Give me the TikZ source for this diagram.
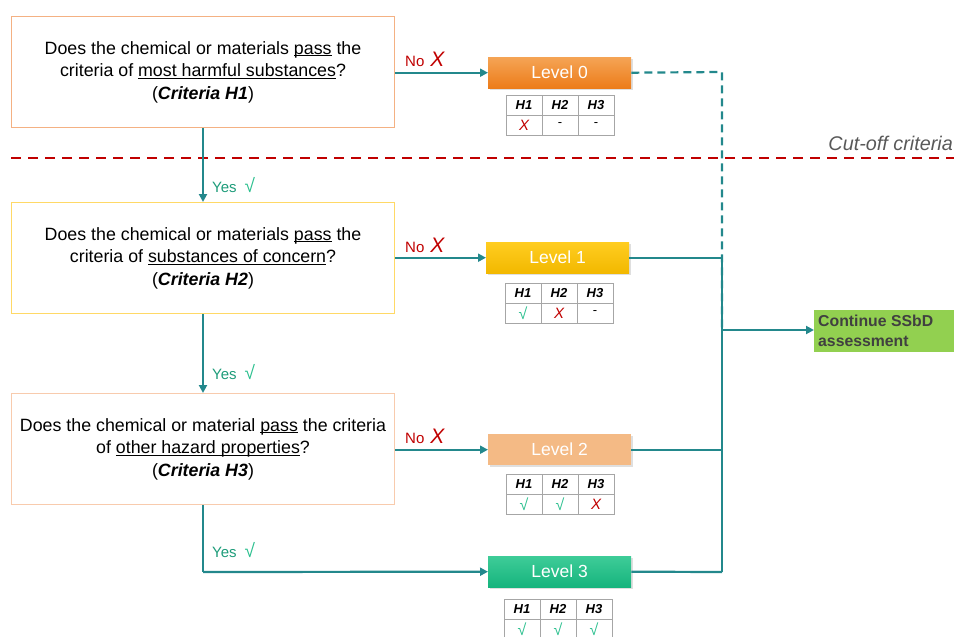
\documentclass[tikz,border=0pt]{standalone}
\usepackage{fontspec}
\setmainfont{Liberation Sans}
\usetikzlibrary{arrows.meta,shadows}
\definecolor{teal1}{HTML}{23888C}
\definecolor{lv0a}{HTML}{F5A455}
\definecolor{lv0b}{HTML}{EC7C1A}
\definecolor{lv1a}{HTML}{FFCD20}
\definecolor{lv1b}{HTML}{F2B800}
\definecolor{lv2}{HTML}{F4BA85}
\definecolor{lv3a}{HTML}{3ECC98}
\definecolor{lv3b}{HTML}{16B47D}
\definecolor{ssbd}{HTML}{92D050}
\definecolor{cutred}{HTML}{C00000}
\definecolor{yesgreen}{HTML}{1E9C7A}
\definecolor{ckgreen}{HTML}{2BBF8E}
\definecolor{b1}{HTML}{F4B183}
\definecolor{b2}{HTML}{FFD966}
\definecolor{b3}{HTML}{F8CBAD}
\definecolor{txtgray}{HTML}{595959}
\definecolor{dgray}{HTML}{404040}
\newcommand\ck{{\color{ckgreen}\fontsize{16}{16}\selectfont √}}
\newcommand\xx{{\color{cutred}\fontsize{15}{15}\selectfont\itshape X}}
\newcommand\bigx{{\color{cutred}\fontsize{21}{21}\selectfont\itshape X}}
\newcommand\bigck{{\color{ckgreen}\fontsize{19}{19}\selectfont √}}
\newcommand\ul[1]{\underline{\smash{#1}}}
\tikzset{
  qbox/.style={draw, line width=1pt, minimum width=383pt, minimum height=111pt, anchor=north west, align=center, font=\fontsize{17.8}{22.5}\selectfont, inner sep=0pt},
  lvbox/.style={minimum width=143pt, minimum height=31pt, anchor=north west, text=white, font=\fontsize{17.5}{17.5}\selectfont, inner sep=0pt, drop shadow={opacity=0.25, shadow xshift=1.5pt, shadow yshift=-1.5pt}},
  conn/.style={draw=teal1, line width=2.2pt},
  flow/.style={conn, -{Triangle[length=8pt,width=8pt]}},
  tcell/.style={draw=gray!70, line width=0.8pt, minimum width=36pt, minimum height=20pt, inner sep=0pt, font=\fontsize{13}{13}\selectfont},
  hcell/.style={tcell, font=\fontsize{13}{13}\selectfont\bfseries\itshape},
  lbl/.style={font=\fontsize{15}{15}\selectfont, inner sep=0pt},
}
\newcommand\lvtable[6]{%
\begin{scope}[shift={(#1,-#2)}]
\node[hcell] (#6h1) at (18,-10) {H1};
\node[hcell] (#6h2) at (54,-10) {H2};
\node[hcell] (#6h3) at (90,-10) {H3};
\node[tcell] (#6v1) at (18,-30) {#3};
\node[tcell] (#6v2) at (54,-30) {#4};
\node[tcell] (#6v3) at (90,-30) {#5};
\end{scope}}
\begin{document}
\begin{tikzpicture}[x=1pt,y=1pt]
\useasboundingbox (0,0) rectangle (954,-637);
\clip (0,0) rectangle (954,-637);

% question boxes
\node[qbox, draw=b1] (q1) at (11,-16) {Does the chemical or materials \ul{pass} the\\criteria of \ul{most harmful substances}?\\(\textbf{\textit{Criteria H1}})};
\node[qbox, draw=b2] (q2) at (11,-202) {Does the chemical or materials \ul{pass} the\\criteria of \ul{substances of concern}?\\(\textbf{\textit{Criteria H2}})};
\node[qbox, draw=b3] (q3) at (11,-393) {Does the chemical or material \ul{pass} the criteria\\of \ul{other hazard properties}?\\(\textbf{\textit{Criteria H3}})};

% level boxes
\node[lvbox, top color=lv0a, bottom color=lv0b] (l0) at (488,-57) {Level 0};
\node[lvbox, top color=lv1a, bottom color=lv1b] (l1) at (486,-242) {Level 1};
\node[lvbox, fill=lv2] (l2) at (488,-434) {Level 2};
\node[lvbox, top color=lv3a, bottom color=lv3b] (l3) at (488,-556) {Level 3};

% tables
\lvtable{506}{95}{\xx}{-}{-}{t0}
\lvtable{505}{283}{\ck}{\xx}{-}{t1}
\lvtable{506}{474}{\ck}{\ck}{\xx}{t2}
\lvtable{504}{599}{\ck}{\ck}{\ck}{t3}

% continue box
\node[fill=ssbd, minimum width=140pt, minimum height=42pt, anchor=north west, inner sep=0pt] (ss) at (814,-310) {};
\node[anchor=west, align=left, text=dgray, font=\fontsize{15.8}{19.5}\selectfont\bfseries, inner sep=0pt] (sst) at (818,-331) {Continue SSbD\\assessment};

% cut-off line
\coordinate (cl) at (11,-158);
\coordinate (cr) at (954,-158);
\draw[cutred, line width=2.2pt, dash pattern=on 10pt off 7pt] (cl) -- (cr);
\node[anchor=east, text=txtgray, font=\fontsize{19.8}{19.8}\selectfont\itshape, inner sep=0pt] (cut) at (953,-143) {Cut-off criteria};

% junction coordinates
\coordinate (jt) at (722,-72);
\coordinate (j) at (722,-330);
\coordinate (jb) at (722,-572);
\coordinate (bend) at (203,-572);

% No arrows
\draw[flow] (q1.east |- l0.west) -- (l0.west);
\draw[flow] (q2.east |- l1.west) -- (l1.west);
\draw[flow] (q3.east |- l2.west) -- (l2.west);
\node[lbl, text=cutred, anchor=base west] (no0) at (405,-66) {No\hspace{6pt}\bigx};
\node[lbl, text=cutred, anchor=base west] (no1) at (405,-252) {No\hspace{6pt}\bigx};
\node[lbl, text=cutred, anchor=base west] (no2) at (405,-443) {No\hspace{6pt}\bigx};

% Yes arrows
\draw[flow] (q1.south -| bend) -- (q2.north -| bend);
\draw[flow] (q2.south -| bend) -- (q3.north -| bend);
\draw[conn] (q3.south -| bend) -- (bend);
\draw[flow] (bend) -- (l3.west);
\node[lbl, text=yesgreen, anchor=base west] (y1) at (212,-192) {Yes\hspace{8pt}\bigck};
\node[lbl, text=yesgreen, anchor=base west] (y2) at (212,-379) {Yes\hspace{8pt}\bigck};
\node[lbl, text=yesgreen, anchor=base west] (y3) at (212,-557) {Yes\hspace{8pt}\bigck};

% right connectors
\draw[teal1, line width=2.2pt, dash pattern=on 8pt off 5pt] (l0.east) -- (jt) -- (j);
\draw[conn] (l1.east) -- (l1.east -| j);
\draw[conn] (l2.east) -- (l2.east -| j);
\draw[conn] (l3.east) -- (jb);
\draw[conn] (l1.east -| j) -- (jb);
\draw[flow] (j) -- (j -| ss.west);
\end{tikzpicture}
\end{document}
